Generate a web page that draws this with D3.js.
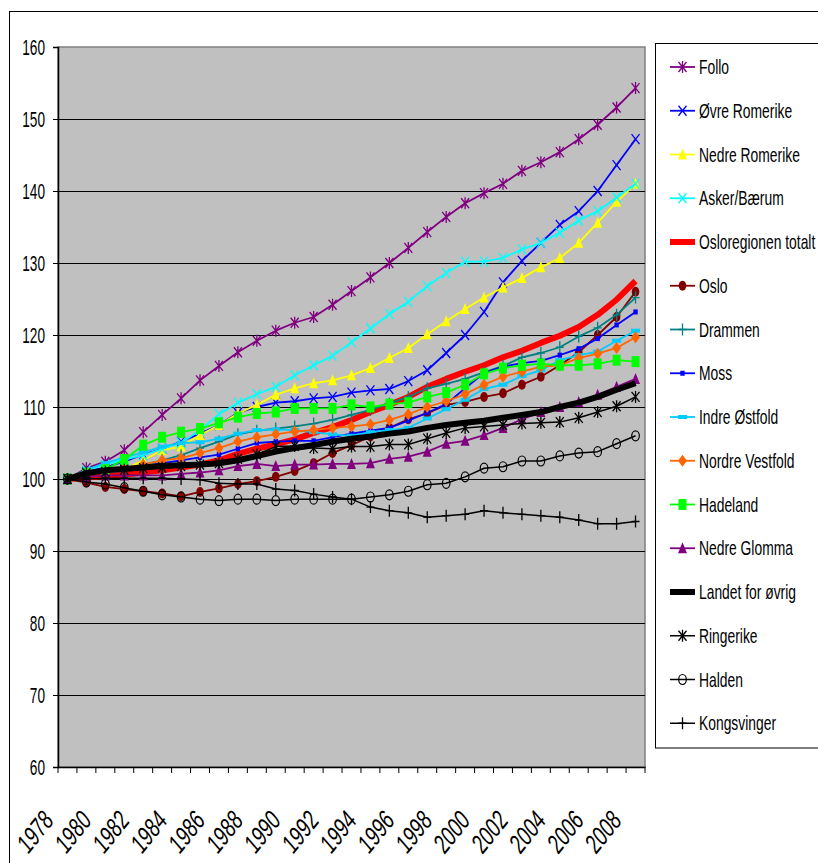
<!DOCTYPE html>
<html><head><meta charset="utf-8">
<script src="https://cdn.jsdelivr.net/npm/d3@7"></script>
<style>body{margin:0;background:#fff}svg{display:block}</style>
</head><body>
<svg id="c" width="818" height="863"></svg>
<script>
const years = [1978,1979,1980,1981,1982,1983,1984,1985,1986,1987,1988,1989,1990,1991,1992,1993,1994,1995,1996,1997,1998,1999,2000,2001,2002,2003,2004,2005,2006,2007,2008];
const yTicks = [60,70,80,90,100,110,120,130,140,150,160];
const xLabelYears = [1978,1980,1982,1984,1986,1988,1990,1992,1994,1996,1998,2000,2002,2004,2006,2008];

const follo = [100,101.5,102.4,104,106.5,108.9,111.2,113.7,115.7,117.6,119.2,120.6,121.7,122.5,124.2,126.1,128,130,132.1,134.3,136.4,138.3,139.7,141,142.8,144,145.4,147.2,149.2,151.6,154.3];
const ovreRomerike = [100,101,101.6,102.4,103.4,104.2,105.2,106.3,107.5,109.2,110,110.6,110.8,111.2,111.4,112,112.3,112.5,113.6,115.1,117.5,120,123.2,127.3,130.3,132.8,135.3,137.2,140,143.6,147.2];
const nedreRomerike = [100,100.7,101,101.3,102.6,104,104.5,106.1,107.5,109.1,110.3,111.7,112.6,113.3,113.7,114.4,115.4,116.8,118.2,120.1,121.9,123.6,125.2,126.6,127.9,129.4,130.7,132.8,135.6,138.5,141];
const askerBaerum = [100,101.2,102,102.7,103.3,104.2,105,106.8,109,110.6,111.8,112.8,114.4,115.8,117.1,119,120.9,122.9,124.6,126.8,128.6,130.2,130.2,130.7,131.9,132.8,134.2,135.9,137.2,139.1,141];
const osloregionen = [100,100.2,100.4,100.6,100.9,101.2,101.6,102,102.6,103.5,104.2,104.8,105.5,106.4,107.2,108.2,109.3,110.3,111.4,112.8,113.9,114.9,115.8,116.9,117.8,118.9,119.9,121.1,122.8,124.9,127.5];
const oslo = [100,99.5,98.9,98.6,98.3,98,97.6,98.2,98.7,99.3,99.7,100.3,101.1,102.2,103.6,104.7,105.9,107.1,108.3,109.1,110.3,110.7,111.4,111.9,113.1,114.2,115.8,117.6,120,122.5,126];
const drammen = [100,100.6,101,101.3,102,102.6,103.3,104.3,105.2,106.2,106.7,107,107.3,107.7,108.2,108.9,109.6,110.5,111.4,112.6,113.2,113.9,114.8,115.7,116.9,117.5,118.3,119.8,121,122.8,125.2];
const moss = [100,100.6,101,101.5,101.8,102.2,102.6,103,103.4,104.2,105,105.2,105.3,105.3,105.8,106.3,106.7,107.1,108.1,109.2,110.4,112.6,114.7,115.6,116.1,116.4,117.2,118.1,119.5,121.4,123.2];
const indreOstfold = [100,101.3,102.2,103,103.7,104.5,105,105.1,105.6,106.3,106.8,106.9,106.8,106.5,106.2,106,106.5,106.8,107.1,108.4,109.7,111,112.5,113.1,114.3,115.1,116.5,117.2,117.7,119.2,120.6];
const nordreVestfold = [100,100.5,101,101.5,102,102.6,102.9,103.6,104.3,105.2,105.8,106.2,106.6,106.8,107.1,107.3,107.6,108.2,109,110,110.8,111.8,113.1,114.2,114.9,115.6,115.8,116.8,117.4,118.2,119.7];
const hadeland = [100,100.8,101.3,102.7,104.7,105.8,106.5,107,107.8,108.6,109.1,109.3,109.8,109.8,109.8,110.3,110,110.4,110.6,111.4,112,113.1,114.6,115.4,115.8,116,115.8,115.8,116,116.5,116.3];
const nedreGlomma = [100,100.3,100.5,100.5,100.5,100.5,100.7,100.9,101.2,101.8,102.1,101.8,102,102,102.1,102.1,102.2,102.8,103.1,103.8,104.9,105.3,106.1,107.1,108.3,109.3,110,110.7,111.7,112.8,113.9];
const landet = [100,100.8,101.2,101.4,101.6,101.8,101.9,102,102.2,102.6,103.2,103.8,104.3,104.7,105.2,105.6,105.9,106.3,106.6,107.1,107.5,107.8,108.1,108.5,108.9,109.3,110,110.6,111.4,112.4,113.3];
const ringerike = [100,100.8,101,101.3,101.5,101.6,101.8,102,102.2,102.8,103.4,104.5,104.6,104.3,104.2,104.5,104.5,104.8,104.8,105.6,106.4,107.1,107.3,107.5,107.7,107.8,107.9,108.5,109.3,110.1,111.4];
const halden = [100,99.6,99.3,98.8,98.3,97.8,97.5,97.2,97,97.2,97.2,97,97.2,97.2,97.2,97.2,97.5,97.8,98.3,99.2,99.4,100.3,101.5,101.7,102.5,102.5,103.2,103.6,103.8,104.9,106];
const kongsvinger = [100,100,100.1,100.1,100.1,100.1,100,99.9,99.4,99.3,99.3,98.6,98.4,97.9,97.5,97.2,96.1,95.6,95.3,94.7,94.9,95.1,95.6,95.3,95.1,94.9,94.7,94.3,93.8,93.8,94.1];

const seriesNames = ["Follo","Øvre Romerike","Nedre Romerike","Asker/Bærum","Osloregionen totalt","Oslo","Drammen","Moss","Indre Østfold","Nordre Vestfold","Hadeland","Nedre Glomma","Landet for øvrig","Ringerike","Halden","Kongsvinger"];
const seriesValues = [follo,ovreRomerike,nedreRomerike,askerBaerum,osloregionen,oslo,drammen,moss,indreOstfold,nordreVestfold,hadeland,nedreGlomma,landet,ringerike,halden,kongsvinger];

// styles (not data)
const styles = [
  {c:"#800080", w:1.8, m:"star"},
  {c:"#0000FF", w:1.8, m:"x"},
  {c:"#FFFF00", w:1.8, m:"tri"},
  {c:"#00FFFF", w:1.8, m:"x"},
  {c:"#FF0000", w:6, m:null},
  {c:"#800000", w:1.8, m:"dot"},
  {c:"#008080", w:1.8, m:"plus"},
  {c:"#0000FF", w:1.8, m:"sq small"},
  {c:"#00CCFF", w:1.8, m:"dash"},
  {c:"#FF6600", w:1.8, m:"diamond"},
  {c:"#00FF00", w:1.8, m:"square"},
  {c:"#800080", w:1.8, m:"tri"},
  {c:"#000000", w:6, m:null},
  {c:"#000000", w:1.5, m:"star"},
  {c:"#000000", w:1.5, m:"ocircle"},
  {c:"#000000", w:1.5, m:"plus"}
];

const FONT = "'Liberation Sans',Arial,sans-serif";
const svg = d3.select("#c");
const L = 58, R = 645, T = 47, B = 767;

// outer frame
svg.append("rect").attr("x",9.5).attr("y",11.5).attr("width",830).attr("height",880)
  .attr("fill","#fff").attr("stroke","#000").attr("stroke-width",1);

const x = d3.scaleBand().domain(years).range([L,R]).padding(0);
const cx = d => x(d) + x.bandwidth()/2;
const y = d3.scaleLinear().domain([60,160]).range([B,T]);

// plot background
svg.append("rect").attr("x",L).attr("y",T).attr("width",R-L).attr("height",B-T)
  .attr("fill","#C0C0C0").attr("stroke","#808080").attr("stroke-width",1.5);

// gridlines
const grid = svg.append("g").attr("transform",`translate(${L},0)`)
  .call(d3.axisLeft(y).tickValues(yTicks.filter(t=>t>60 && t<160)).tickSize(-(R-L)).tickFormat(""));
grid.select(".domain").remove();
grid.selectAll("line").attr("stroke","#000").attr("stroke-width",1);

// y axis
const SX = 0.62;
const ya = svg.append("g").attr("transform",`translate(${L},0)`)
  .call(d3.axisLeft(y).tickValues(yTicks).tickSize(5).tickPadding(6).tickFormat(d3.format("d")));
ya.select(".domain").attr("stroke","#000").attr("stroke-width",1.5);
ya.selectAll("line").attr("stroke","#000");
ya.selectAll("text").attr("font-family",FONT).attr("font-size",22).attr("fill","#000")
  .attr("transform",`scale(${SX},1)`)
  .attr("x", -13/SX).attr("dy","0.36em");

// x axis
const xa = svg.append("g").attr("transform",`translate(0,${B})`)
  .call(d3.axisBottom(x).tickSize(0).tickFormat(""));
xa.select(".domain").attr("stroke","#000").attr("stroke-width",1.5);
xa.selectAll(".tick").remove();
const bounds = years.map(d=>x(d)).concat([x(years[years.length-1])+x.bandwidth()]);
xa.selectAll("line.tk").data(bounds).enter().append("line").attr("class","tk")
  .attr("x1",d=>d).attr("x2",d=>d).attr("y1",0).attr("y2",6).attr("stroke","#000");
xa.selectAll("text.xl").data(xLabelYears).enter().append("text").attr("class","xl")
  .attr("transform",d=>`translate(${cx(d)-13},${55}) scale(1,1.2) rotate(-46) scale(0.72,1)`)
  .attr("text-anchor","end").attr("font-family",FONT).attr("font-size",24).attr("fill","#000")
  .text(d=>d);

// marker drawing
function drawMarker(g, m, color, px, py){
  if(!m) return;
  const sw = 1.3;
  if(m==="star"){
    g.append("path").attr("d",`M${px-4},${py-5}L${px+4},${py+5}M${px-4},${py+5}L${px+4},${py-5}M${px},${py-6}L${px},${py+6}`)
      .attr("stroke",color).attr("stroke-width",sw).attr("fill","none");
  } else if(m==="x"){
    g.append("path").attr("d",`M${px-4},${py-5}L${px+4},${py+5}M${px-4},${py+5}L${px+4},${py-5}`)
      .attr("stroke",color).attr("stroke-width",sw).attr("fill","none");
  } else if(m==="plus"){
    g.append("path").attr("d",`M${px-4},${py}L${px+4},${py}M${px},${py-6}L${px},${py+6}`)
      .attr("stroke",color).attr("stroke-width",sw).attr("fill","none");
  } else if(m==="tri"){
    g.append("path").attr("d",`M${px},${py-6}L${px+4.5},${py+5}L${px-4.5},${py+5}Z`).attr("fill",color);
  } else if(m==="dot"){
    g.append("ellipse").attr("cx",px).attr("cy",py).attr("rx",3.8).attr("ry",5).attr("fill",color);
  } else if(m==="ocircle"){
    g.append("ellipse").attr("cx",px).attr("cy",py).attr("rx",3.8).attr("ry",5).attr("fill","none").attr("stroke",color).attr("stroke-width",1.2);
  } else if(m==="sq small"){
    g.append("rect").attr("x",px-2.2).attr("y",py-2.5).attr("width",4.4).attr("height",5).attr("fill",color);
  } else if(m==="dash"){
    g.append("rect").attr("x",px-4.5).attr("y",py-2).attr("width",9).attr("height",4).attr("fill",color);
  } else if(m==="diamond"){
    g.append("path").attr("d",`M${px},${py-6}L${px+4.5},${py}L${px},${py+6}L${px-4.5},${py}Z`).attr("fill",color);
  } else if(m==="square"){
    g.append("rect").attr("x",px-4).attr("y",py-5.5).attr("width",8).attr("height",11).attr("fill",color);
  }
}

const line = d3.line().x((d,i)=>cx(years[i])).y(d=>y(d));
const plot = svg.append("g");
seriesValues.forEach((vals,si)=>{
  const st = styles[si];
  const g = plot.append("g");
  g.append("path").attr("d",line(vals)).attr("fill","none").attr("stroke",st.c)
    .attr("stroke-width",st.w).attr("stroke-linejoin","round");
  vals.forEach((v,i)=>drawMarker(g, st.m, st.c, cx(years[i]), y(v)));
});

// legend
const lg = svg.append("g");
lg.append("rect").attr("x",655.5).attr("y",43.5).attr("width",200).attr("height",704.5)
  .attr("fill","#fff").attr("stroke","#000").attr("stroke-width",1);
seriesNames.forEach((n,i)=>{
  const st = styles[i];
  const yy = 67 + i*43.75;
  const g = lg.append("g");
  g.append("line").attr("x1",670).attr("x2",695).attr("y1",yy).attr("y2",yy)
    .attr("stroke",st.c).attr("stroke-width",st.w);
  drawMarker(g, st.m, st.c, 682.5, yy);
  g.append("text").attr("transform",`translate(699,${yy+7}) scale(0.66,1)`)
    .attr("font-family",FONT).attr("font-size",21).attr("fill","#000").text(n);
});
</script>
</body></html>
